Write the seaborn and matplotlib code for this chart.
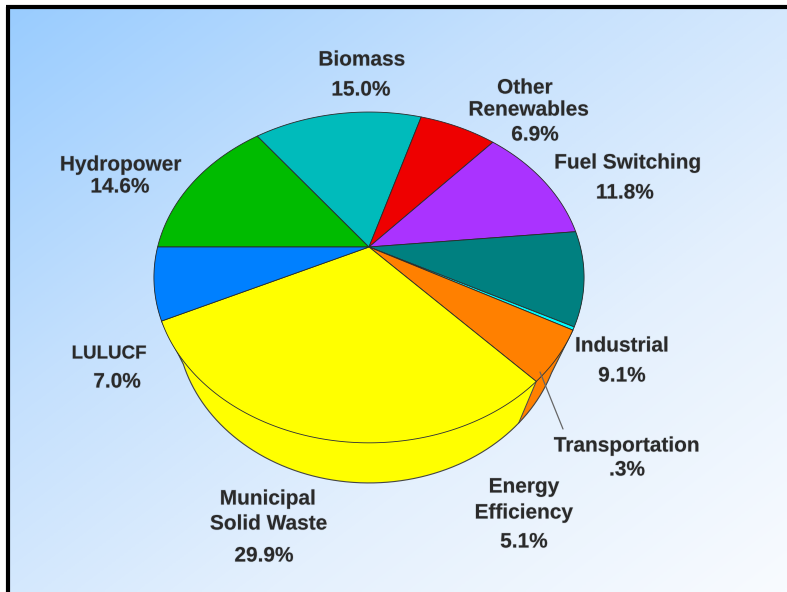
import numpy as np
import matplotlib
matplotlib.use("Agg")
import matplotlib.pyplot as plt
import matplotlib.patheffects as pe
from matplotlib.colors import LinearSegmentedColormap
import seaborn as sns

# Data, clockwise from the 9 o'clock position
categories = ["Hydropower", "Biomass", "Other Renewables", "Fuel Switching", "Industrial",
              "Transportation", "Energy Efficiency", "Municipal Solid Waste", "LULUCF"]
shares = [14.6, 15.0, 6.9, 11.8, 9.1, 0.3, 5.1, 29.9, 7.0]
slice_colors = ["#00BB00", "#00BBBB", "#EE0000", "#AA33FF", "#008080",
                "#00FFFF", "#FF8000", "#FFFF00", "#0080FF"]
# Label lines: text, x, y (pixels)
label_lines = [
    ("Biomass", 362, 60), ("15.0%", 361, 90),
    ("Other", 525, 88), ("Renewables", 529, 110), ("6.9%", 535, 135),
    ("Fuel Switching", 628, 163), ("11.8%", 625, 193),
    ("Hydropower", 121, 165), ("14.6%", 120, 187),
    ("LULUCF", 109, 354), ("7.0%", 117, 382),
    ("Industrial", 622, 346), ("9.1%", 622, 376),
    ("Transportation", 627, 446), (".3%", 627, 470),
    ("Energy", 524, 487), ("Efficiency", 524, 513), ("5.1%", 524, 542),
    ("Municipal", 268, 499), ("Solid Waste", 269, 524), ("29.9%", 264, 556),
]
narrow_labels = {"LULUCF": 13.5}

W, H = 787, 592
CX, CY = 369, 247
K, AX, AY = 0.184, 211.4, 159.8      # perspective of the pie top
SX, SY, DEPTH = 0.895, 0.975, 45.0   # rim of the pie base relative to the top


def project(theta, base=False):
    """Project polar angles (degrees) on the unit disc to pixel positions."""
    t = np.radians(theta)
    u, v = np.cos(t), np.sin(t)
    w = 1 + K * v
    x, y = AX * u / w, -AY * v / w
    if base:
        return CX + SX * x, CY + DEPTH + SY * y
    return CX + x, CY + y


sns.set_theme(style="white")
plt.rcParams["font.family"] = ["Liberation Sans", "DejaVu Sans"]
palette = sns.color_palette(slice_colors)

fig = plt.figure(figsize=(W / 100, H / 100), dpi=100, facecolor="white")
ax = fig.add_axes([0, 0, 1, 1])
ax.set_xlim(0, W)
ax.set_ylim(H, 0)
ax.axis("off")

# Background gradient and frame
gx, gy = np.meshgrid(np.linspace(0, 1, 200), np.linspace(0, 1, 200))
cmap = LinearSegmentedColormap.from_list("bg", ["#99CCFF", "#C4E0FD", "#E4F0FD", "#F8FBFF"])
ax.imshow((gx + gy) / 2, extent=(8, W, H, 7), cmap=cmap, vmin=0, vmax=1,
          aspect="auto", zorder=0, interpolation="bilinear")
ax.set_xlim(0, W)
ax.set_ylim(H, 0)
ax.plot([8, 8], [H, 7], color="black", lw=3.0, solid_capstyle="butt", zorder=1)
ax.plot([6, W], [7, 7], color="black", lw=3.0, solid_capstyle="butt", zorder=1)

# Slice boundaries from the values
fractions = np.array(shares) / sum(shares)
bounds = 180 - 360 * np.concatenate([[0], np.cumsum(fractions)])
edge = "#2A2A2A"

# Side wall (only the strip between the rims that faces the viewer)
for i, col in enumerate(palette):
    a0, a1 = bounds[i], bounds[i + 1]
    mid = (a0 + a1) / 2 % 360
    if not (180 <= mid < 360):
        continue
    th = np.linspace(a0, a1, 160)
    xt, yt = project(th)
    xb, yb = project(th, base=True)
    ax.fill(np.r_[xt, xb[::-1]], np.r_[yt, yb[::-1]], color=col, lw=0, zorder=2)

# Outline of the side wall
msw = categories.index("Municipal Solid Waste")
eff = categories.index("Energy Efficiency")
th = np.linspace(bounds[msw + 1], bounds[eff], 300)
xb, yb = project(th, base=True)
xs, ys = project(np.array([bounds[msw + 1], bounds[eff]]))
ax.plot(np.r_[xs[0], xb, xs[1]], np.r_[ys[0], yb, ys[1]], color="#444444", lw=0.8, zorder=3)
x0, y0 = project(np.array([bounds[msw]]))
x1, y1 = project(np.array([bounds[msw]]), base=True)
ax.plot([x0[0], x1[0]], [y0[0], y1[0]], color="#444444", lw=0.7, zorder=3)

# Top of the pie
for i, col in enumerate(palette):
    th = np.linspace(bounds[i], bounds[i + 1], 120)
    x, y = project(th)
    ax.fill(np.r_[CX, x], np.r_[CY, y], facecolor=col, edgecolor=edge, lw=0.6,
            joinstyle="round", zorder=4)

# Leader line for the thin slice
ax.plot([540, 563], [372, 429], color="#666666", lw=0.9, zorder=5)

for text, x, y in label_lines:
    ax.text(x, y, text, ha="center", va="center", fontsize=narrow_labels.get(text, 15),
            fontweight="bold", color="#2A2A2A", zorder=6,
            path_effects=[pe.withStroke(linewidth=0.8, foreground="#2A2A2A", alpha=0.15)])

fig.savefig("out.png", dpi=100)
